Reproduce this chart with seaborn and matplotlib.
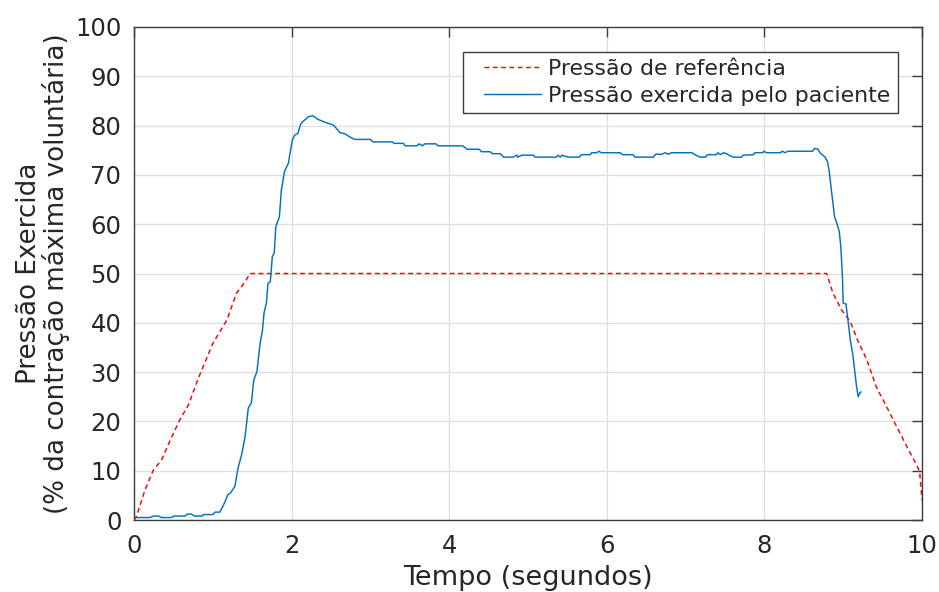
import numpy as np
import pandas as pd
import matplotlib
matplotlib.use("Agg")
import matplotlib.pyplot as plt
from matplotlib.lines import Line2D
from matplotlib.legend_handler import HandlerLine2D
import seaborn as sns

# Reference pressure profile (% MVC) over time (s)
ref_t = [0.0, 0.03, 0.14, 0.245, 0.35, 0.46, 0.58, 0.69, 0.815, 1.0, 1.18, 1.30,
         1.41, 1.47, 8.79, 8.87, 8.98, 9.09, 9.19, 9.30, 9.42, 9.55, 9.68, 9.83,
         9.93, 9.97, 10.0]
ref_p = [0.0, 0.7, 6.1, 10.1, 12.2, 16.2, 20.3, 23.3, 28.7, 35.8, 40.6, 46.0,
         48.3, 50.0, 50.0, 46.0, 42.6, 40.2, 36.2, 32.5, 27.0, 23.0, 18.9, 14.2,
         11.2, 9.8, 4.0]

# Pressure exerted by the patient (% MVC) over time (s)
pat_t = [0.0, 0.20, 0.245, 0.31, 0.35, 0.48, 0.50, 0.65, 0.675, 0.73, 0.765, 0.86,
         0.88, 1.0, 1.03, 1.09, 1.125, 1.155, 1.19, 1.22, 1.28, 1.32, 1.365, 1.41,
         1.45, 1.49, 1.52, 1.56, 1.60, 1.63, 1.65, 1.68, 1.70, 1.73, 1.755, 1.78,
         1.80, 1.845, 1.87, 1.91, 1.96, 1.98, 2.01, 2.04, 2.08, 2.11, 2.14, 2.18,
         2.21, 2.27, 2.33, 2.42, 2.53, 2.57, 2.61, 2.68, 2.74, 2.80, 3.0, 3.03,
         3.28, 3.30, 3.42, 3.44, 3.59, 3.62, 3.66, 3.69, 3.83, 3.86, 4.17, 4.23,
         4.38, 4.41, 4.52, 4.55, 4.65, 4.69, 4.81, 4.86, 4.87, 4.92, 5.07, 5.09,
         5.36, 5.38, 5.41, 5.43, 5.51, 5.65, 5.68, 5.79, 5.81, 5.87, 5.90, 5.93,
         6.17, 6.20, 6.33, 6.36, 6.59, 6.62, 6.70, 6.74, 6.78, 6.82, 6.89, 7.08,
         7.12, 7.18, 7.25, 7.28, 7.39, 7.41, 7.44, 7.48, 7.52, 7.56, 7.61, 7.71,
         7.73, 7.86, 7.88, 7.98, 7.99, 8.03, 8.20, 8.23, 8.26, 8.30, 8.61, 8.64,
         8.68, 8.71, 8.77, 8.80, 8.82, 8.85, 8.89, 8.92, 8.95, 8.97, 8.99, 9.00,
         9.035, 9.06, 9.09, 9.12, 9.15, 9.17, 9.19, 9.21, 9.23]
pat_p = [0.5, 0.5, 0.8, 0.8, 0.5, 0.5, 0.8, 0.8, 1.2, 1.2, 0.8, 0.8,
         1.1, 1.1, 1.6, 1.6, 2.7, 3.7, 5.1, 5.4, 6.8, 10.5, 13.2, 16.9,
         22.7, 23.8, 28.4, 30.1, 35.8, 38.5, 42.0, 44.0, 48.0, 48.3, 53.4, 54.2,
         59.5, 61.5, 66.9, 70.7, 72.4, 74.4, 77.1, 78.1, 78.4, 80.1, 80.8, 81.3,
         81.8, 82.0, 81.3, 80.7, 80.1, 79.4, 78.6, 78.3, 77.7, 77.2, 77.2, 76.7,
         76.7, 76.4, 76.4, 75.9, 75.9, 76.3, 75.9, 76.3, 76.3, 75.9, 75.9, 75.2,
         75.2, 74.7, 74.7, 74.3, 74.3, 73.6, 73.6, 74.0, 73.6, 74.0, 74.0, 73.6,
         73.6, 74.0, 73.6, 74.0, 73.6, 73.6, 74.1, 74.1, 74.5, 74.5, 74.8, 74.5,
         74.5, 74.1, 74.1, 73.6, 73.6, 74.2, 74.2, 74.5, 74.2, 74.5, 74.5, 74.5,
         74.1, 73.6, 73.6, 74.1, 74.1, 74.5, 74.1, 74.5, 74.3, 73.9, 73.6, 73.6,
         74.0, 74.1, 74.5, 74.5, 74.8, 74.5, 74.5, 74.8, 74.5, 74.8, 74.8, 75.4,
         75.2, 74.4, 73.6, 72.7, 71.0, 66.9, 61.5, 60.2, 58.5, 55.4, 49.4, 44.0,
         43.8, 40.6, 36.5, 33.8, 29.8, 27.0, 25.0, 25.8, 26.0]

ref_label = "Pressão de referência"
pat_label = "Pressão exercida pelo paciente"

df = pd.concat([
    pd.DataFrame({"t": ref_t, "p": ref_p, "serie": ref_label}),
    pd.DataFrame({"t": pat_t, "p": pat_p, "serie": pat_label}),
], ignore_index=True)

sns.set_theme(style="white")
plt.rcParams["font.family"] = ["DejaVu Sans"]

fig = plt.figure(figsize=(9.39, 5.92), dpi=100)
ax = fig.add_axes([0.1427, 0.1216, 0.8392, 0.8328])

sns.lineplot(data=df, x="t", y="p", hue="serie", style="serie",
             palette={ref_label: "#FF0000", pat_label: "#0072BD"},
             dashes={ref_label: (3.3, 2.4), pat_label: ""},
             estimator=None, sort=False, linewidth=1.05, ax=ax)

ax.set_xlim(0, 10)
ax.set_ylim(0, 100)
ax.set_xticks([0, 2, 4, 6, 8, 10])
ax.set_yticks(np.arange(0, 101, 10))
ax.grid(True, color="#dedede", linewidth=0.9)
ax.set_axisbelow(True)

for s in ax.spines.values():
    s.set_visible(True)
    s.set_color("#3c3c3c")
    s.set_linewidth(1.0)

ax.tick_params(axis="both", which="major", direction="in", length=7, width=1,
               color="#3c3c3c", labelsize=17.5, labelcolor="#262626",
               top=True, right=True)
ax.tick_params(axis="x", pad=10)
ax.tick_params(axis="y", pad=9)

ax.set_xlabel("Tempo (segundos)", fontsize=19.5, color="#262626", labelpad=5)
ax.set_ylabel("Pressão Exercida\n(% da contração máxima voluntária)",
              fontsize=18.8, color="#262626", labelpad=4, linespacing=0.98)

leg = ax.legend(loc="upper right", bbox_to_anchor=(0.9695, 0.9495), fontsize=15.8,
                frameon=True, fancybox=False, framealpha=1, edgecolor="#3c3c3c",
                handlelength=3.26, handletextpad=0.32, borderpad=0.33,
                labelspacing=0.3, borderaxespad=0.0,
                handler_map={Line2D: HandlerLine2D(xpad=0.65)})
leg.get_frame().set_linewidth(1.0)
leg.set_title(None)

fig.savefig("out.png", dpi=100)
